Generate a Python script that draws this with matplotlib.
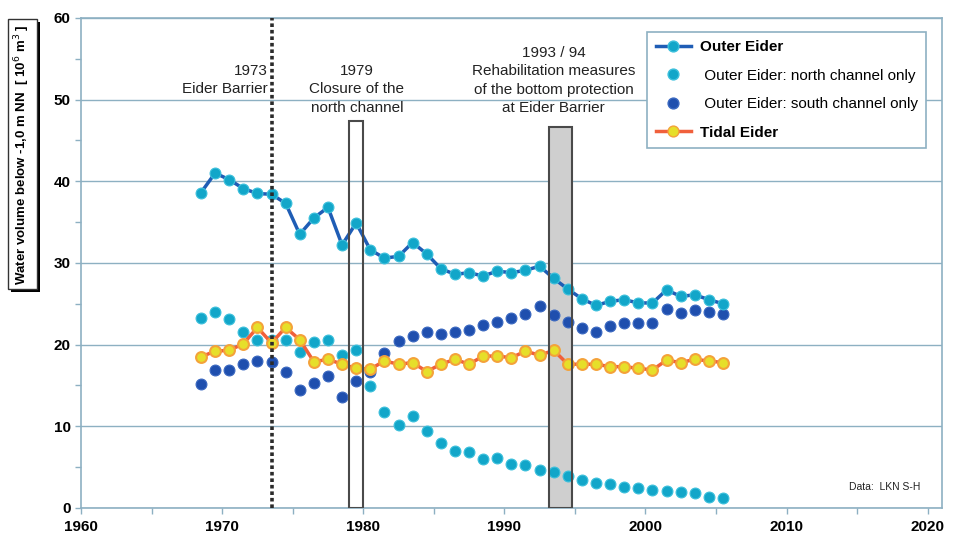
import numpy as np
import matplotlib
matplotlib.use("Agg")
import matplotlib.pyplot as plt
from matplotlib.patches import Rectangle
from matplotlib.lines import Line2D
import matplotlib.patheffects as pe

plt.rcParams['font.family'] = ['Liberation Sans', 'DejaVu Sans']

# data
years = list(range(1968, 2006))
outer_eider = [38.6, 41.0, 40.2, 39.1, 38.5, 38.4, 37.3, 33.5, 35.5, 36.8,
               32.2, 34.9, 31.6, 30.6, 30.8, 32.5, 31.1, 29.3, 28.6, 28.8,
               28.4, 29.0, 28.8, 29.1, 29.6, 28.1, 26.8, 25.6, 24.8, 25.3,
               25.5, 25.1, 25.1, 26.7, 25.9, 26.1, 25.5, 25.0]
north_channel = [23.3, 24.0, 23.1, 21.5, 20.6, 20.6, 20.6, 19.1, 20.3, 20.6,
                 18.7, 19.4, 14.9, 11.8, 10.2, 11.3, 9.4, 8.0, 7.0, 6.8,
                 6.0, 6.1, 5.4, 5.3, 4.7, 4.4, 3.9, 3.4, 3.1, 2.9,
                 2.6, 2.4, 2.2, 2.1, 2.0, 1.8, 1.4, 1.2]
south_channel = [15.2, 16.9, 16.9, 17.6, 18.0, 17.9, 16.7, 14.4, 15.3, 16.2,
                 13.6, 15.5, 16.6, 19.0, 20.5, 21.0, 21.6, 21.3, 21.5, 21.8,
                 22.4, 22.8, 23.3, 23.8, 24.7, 23.6, 22.8, 22.0, 21.6, 22.3,
                 22.7, 22.7, 22.7, 24.4, 23.9, 24.2, 24.0, 23.8]
tidal_eider = [18.5, 19.2, 19.3, 20.1, 22.1, 20.2, 22.1, 20.6, 17.9, 18.2,
               17.6, 17.1, 17.0, 18.0, 17.6, 17.8, 16.7, 17.6, 18.2, 17.6,
               18.6, 18.6, 18.4, 19.2, 18.7, 19.3, 17.6, 17.6, 17.6, 17.3,
               17.3, 17.1, 16.9, 18.1, 17.8, 18.2, 18.0, 17.8]

# values are yearly means, drawn in the middle of each year
x = np.array(years) + 0.5

c_grid = '#8db0c2'
c_outer_line = '#1f5db5'
c_cyan = '#12a6c9'
c_dark = '#1f4fae'
c_tidal_line = '#f0603c'
c_yellow = '#e6df2a'
c_yellow_edge = '#f4a23a'

fig = plt.figure(figsize=(9.58, 5.41), dpi=100)
ax = fig.add_axes([0.0846, 0.061, 0.8984, 0.906])

ax.plot(x, north_channel, 'o', ms=7.8, color=c_cyan, mec='#3cc0dc', mew=0.8, zorder=3)
ax.plot(x, south_channel, 'o', ms=7.8, color=c_dark, mec='#3a68c0', mew=0.8, zorder=3)
ax.plot(x, outer_eider, '-o', lw=2.5, color=c_outer_line, ms=7.8,
        mfc=c_cyan, mec='#3cc0dc', mew=0.8, zorder=4)
ax.plot(x, tidal_eider, '-o', lw=2.5, color=c_tidal_line, ms=7.8,
        mfc=c_yellow, mec=c_yellow_edge, mew=1.5, zorder=5)

# events
ax.axvline(1973.55, color='#2b2b2b', lw=2.6, ls=(0, (1, 0.8)), zorder=6)
ax.add_patch(Rectangle((1979.0, 0), 1.0, 47.4, fill=False, ec='#4a4a4a', lw=1.5, zorder=6))
ax.add_patch(Rectangle((1993.2, 0), 1.6, 46.6, fc='#cfcfcf', ec='none', zorder=2))
ax.add_patch(Rectangle((1993.2, 0), 1.6, 46.6, fill=False, ec='#4a4a4a', lw=1.5, zorder=6))

ax.text(1973.2, 54.35, '1973\nEider Barrier', ha='right', va='top', fontsize=11,
        linespacing=1.4, color='#222222')
ax.text(1979.55, 54.35, '1979\nClosure of the\nnorth channel', ha='center', va='top',
        fontsize=11, linespacing=1.4, color='#222222')
ax.text(1993.5, 56.55, '1993 / 94\nRehabilitation measures\nof the bottom protection\nat Eider Barrier',
        ha='center', va='top', fontsize=11, linespacing=1.4, color='#222222')
ax.text(2014.4, 2.6, 'Data:  LKN S-H', fontsize=7.5, va='center', color='#222222')

ax.set_xlim(1960, 2021)
ax.set_ylim(0, 60)
ax.set_xticks(range(1960, 2021, 10))
ax.set_xticks(range(1960, 2021, 5), minor=True)
ax.set_yticks(range(0, 61, 10))
ax.set_yticks(range(0, 61, 5), minor=True)
ax.yaxis.grid(True, color=c_grid, lw=1.0)
ax.set_axisbelow(True)
for lab in ax.get_xticklabels() + ax.get_yticklabels():
    lab.set_fontweight('bold')
    lab.set_fontsize(11)
ax.tick_params(which='both', direction='out', color=c_grid, length=4, width=1)
ax.tick_params(axis='x', pad=5)
for s in ax.spines.values():
    s.set_color(c_grid)
    s.set_linewidth(1.2)

handles = [
    Line2D([], [], color=c_outer_line, lw=2.5, marker='o', ms=7.8, mfc=c_cyan, mec='#3cc0dc'),
    Line2D([], [], ls='none', marker='o', ms=7.8, color=c_cyan, mec='#3cc0dc'),
    Line2D([], [], ls='none', marker='o', ms=7.8, color=c_dark, mec='#3a68c0'),
    Line2D([], [], color=c_tidal_line, lw=2.5, marker='o', ms=7.8, mfc=c_yellow, mec=c_yellow_edge),
]
labels = ['Outer Eider', ' Outer Eider: north channel only',
          ' Outer Eider: south channel only', 'Tidal Eider']
leg = ax.legend(handles, labels, loc='upper right', bbox_to_anchor=(934 / 958, 1 - 24 / 541),
                bbox_transform=fig.transFigure, fontsize=11, frameon=True, fancybox=False,
                framealpha=1, edgecolor=c_grid, labelspacing=0.95, handlelength=2.3,
                handletextpad=0.6, borderpad=0.55)
leg.get_frame().set_linewidth(1.2)
leg.set_zorder(10)
leg.get_texts()[0].set_fontweight('bold')
leg.get_texts()[3].set_fontweight('bold')

yl = fig.text(0.0235, 0.715, r'Water volume below -1,0 m NN  [ 10$^{6}$ m$^{3}$ ]',
              rotation=90, ha='center', va='center', fontsize=9.5, fontweight='bold',
              bbox=dict(boxstyle='square,pad=0.35', fc='white', ec='#333333', lw=1))
yl.get_bbox_patch().set_path_effects([pe.withSimplePatchShadow(offset=(2, -2), shadow_rgbFace='black', alpha=1)])

fig.savefig('out.png', dpi=100)
